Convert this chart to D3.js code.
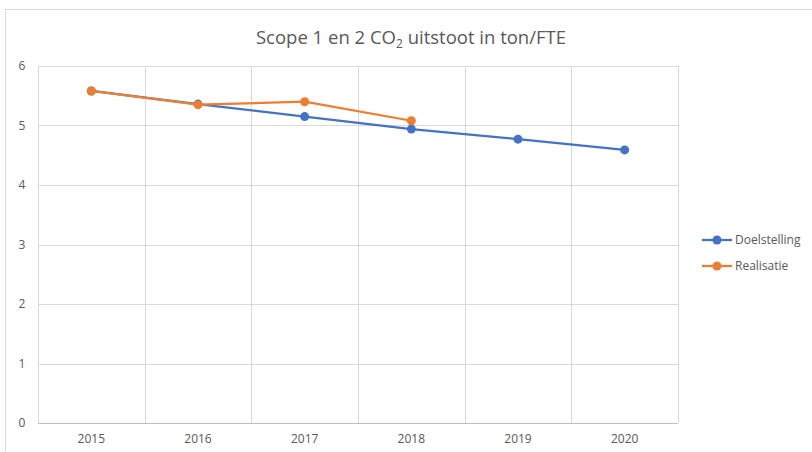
<!DOCTYPE html>
<html>
<head>
<meta charset="utf-8">
<script src="https://cdn.jsdelivr.net/npm/d3@7"></script>
<style>
  body { margin: 0; background: #fff; }
  text { font-family: "Open Sans", "Noto Sans", sans-serif; fill: #595959; }
</style>
</head>
<body>
<svg id="chart"></svg>
<script>
// data
const years = ["2015", "2016", "2017", "2018", "2019", "2020"];
const doelstelling = [5.58, 5.36, 5.15, 4.94, 4.77, 4.59];
const realisatie = [5.58, 5.35, 5.40, 5.08];
const yTicks = [0, 1, 2, 3, 4, 5, 6];
const seriesNames = ["Doelstelling", "Realisatie"];

var width = 812
var height = 452
var margin = {top: 66, right: 134, bottom: 30, left: 38}

var colors = d3.scaleOrdinal()
  .domain(seriesNames)
  .range(["#4472C4", "#ED7D31"]);

var svg = d3.select("#chart")
  .attr("width", width)
  .attr("height", height)

// chart frame
svg.append("rect")
  .attr("x", 5.5).attr("y", 9.5)
  .attr("width", width).attr("height", height)
  .attr("fill", "none")
  .attr("stroke", "#d9d9d9")

var x = d3.scaleBand()
  .domain(years)
  .range([margin.left, width - margin.right])

var y = d3.scaleLinear()
  .domain([0, 6])
  .range([423, margin.top])

// horizontal gridlines
svg.append("g")
  .selectAll("line")
  .data(yTicks.filter(d => d > 0))
  .enter()
  .append("line")
  .attr("x1", x.range()[0]).attr("x2", x.range()[1])
  .attr("y1", d => Math.round(y(d)) + 0.5).attr("y2", d => Math.round(y(d)) + 0.5)
  .attr("stroke", "#d9d9d9")

// vertical gridlines at the category boundaries
var bounds = years.map(d => x(d)).concat([x.range()[1]])
svg.append("g")
  .selectAll("line")
  .data(bounds)
  .enter()
  .append("line")
  .attr("x1", d => Math.round(d) + 0.5).attr("x2", d => Math.round(d) + 0.5)
  .attr("y1", y(6)).attr("y2", y(0))
  .attr("stroke", "#d9d9d9")

// x axis line
svg.append("line")
  .attr("x1", x.range()[0]).attr("x2", x.range()[1])
  .attr("y1", Math.round(y(0)) + 0.5).attr("y2", Math.round(y(0)) + 0.5)
  .attr("stroke", "#bfbfbf")

// y tick labels
svg.append("g")
  .selectAll("text")
  .data(yTicks)
  .enter()
  .append("text")
  .attr("x", 22)
  .attr("y", d => y(d) + 4)
  .attr("text-anchor", "middle")
  .style("font-size", "12px")
  .text(d => d)

// x tick labels
svg.append("g")
  .selectAll("text")
  .data(years)
  .enter()
  .append("text")
  .attr("x", d => x(d) + x.bandwidth() / 2)
  .attr("y", 443)
  .attr("text-anchor", "middle")
  .style("font-size", "12px")
  .text(d => d)

// title
var title = svg.append("text")
  .attr("x", 411)
  .attr("y", 44)
  .attr("text-anchor", "middle")
  .style("font-size", "18.5px")
title.append("tspan").text("Scope 1 en 2 CO")
title.append("tspan").attr("dy", 4).style("font-size", "12px").text("2")
title.append("tspan").attr("dy", -4).text(" uitstoot in ton/FTE")

// series
var series = [
  {name: "Doelstelling", values: doelstelling},
  {name: "Realisatie", values: realisatie}
]

var line = d3.line()
  .x((d, i) => x(years[i]) + x.bandwidth() / 2)
  .y(d => y(d))

series.forEach(function(s) {
  var g = svg.append("g")
  g.append("path")
    .attr("d", line(s.values))
    .attr("fill", "none")
    .attr("stroke", colors(s.name))
    .attr("stroke-width", 2.25)
  g.selectAll("circle")
    .data(s.values)
    .enter()
    .append("circle")
    .attr("cx", (d, i) => x(years[i]) + x.bandwidth() / 2)
    .attr("cy", d => y(d))
    .attr("r", 4.5)
    .attr("fill", colors(s.name))
})

// legend
var legend = svg.append("g")
  .selectAll("g")
  .data(seriesNames)
  .enter()
  .append("g")
  .attr("transform", (d, i) => "translate(702," + (240 + i * 26) + ")")

legend.append("line")
  .attr("x1", 0).attr("x2", 30)
  .attr("stroke", d => colors(d))
  .attr("stroke-width", 2.25)
legend.append("circle")
  .attr("cx", 15).attr("r", 4.5)
  .attr("fill", d => colors(d))
legend.append("text")
  .attr("x", 33).attr("y", 4)
  .style("font-size", "12px")
  .text(d => d)
</script>
</body>
</html>
